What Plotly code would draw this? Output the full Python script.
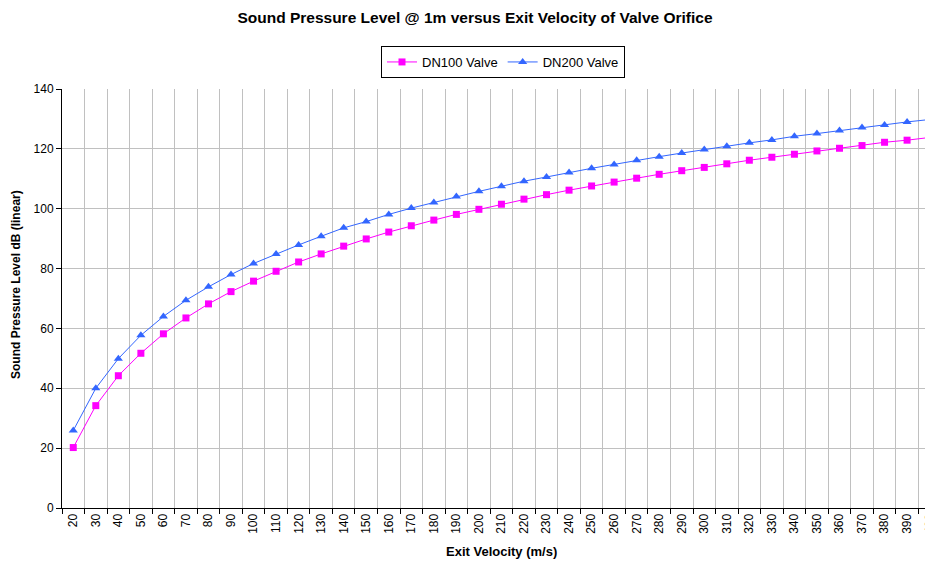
import plotly.graph_objects as go

velocity = [str(v) for v in range(20, 401, 10)]
dn100 = [20.2, 34.2, 44.2, 51.7, 58.2, 63.5, 68.2, 72.3, 75.8, 79.1, 82.2, 84.9, 87.5,
         89.9, 92.2, 94.3, 96.2, 98.1, 99.8, 101.5, 103.2, 104.7, 106.2, 107.6, 108.9,
         110.2, 111.5, 112.7, 113.8, 115.0, 116.2, 117.2, 118.2, 119.3, 120.2, 121.1,
         122.2, 122.9, 123.8]
dn200 = [25.9, 40.0, 49.9, 57.7, 64.0, 69.4, 73.9, 78.0, 81.7, 84.9, 87.9, 90.8, 93.6,
         95.7, 98.1, 100.2, 102.1, 104.1, 105.8, 107.5, 109.2, 110.6, 112.1, 113.5, 114.8,
         116.2, 117.4, 118.6, 119.8, 120.9, 122.0, 123.0, 124.2, 125.1, 126.1, 127.1,
         128.0, 129.0, 129.8]
yticks = [0, 20, 40, 60, 80, 100, 120, 140]

FONT = "Liberation Sans, Arial, sans-serif"

# page has an 8px body margin, so figure is 8px smaller and offsets are reduced by 8
W, H = 925, 555
L, T, B = 54, 81, 55
PW, PH = W - L, H - T - B

fig = go.Figure()
fig.add_trace(go.Scatter(x=velocity, y=dn100, name="DN100 Valve", mode="lines+markers",
                         line=dict(color="#FF00FF", width=1), cliponaxis=False,
                         marker=dict(symbol="square", size=7, color="#FF00FF")))
fig.add_trace(go.Scatter(x=velocity, y=dn200, name="DN200 Valve", mode="lines+markers",
                         line=dict(color="#3366FF", width=1), cliponaxis=False,
                         marker=dict(symbol="triangle-up", size=8, color="#3366FF")))

fig.update_layout(
    width=W, height=H,
    margin=dict(l=L, r=0, t=T, b=B),
    paper_bgcolor="white", plot_bgcolor="white",
    font=dict(family=FONT, size=12, color="black"),
    title=dict(text="<b>Sound Pressure Level @ 1m versus Exit Velocity of Valve Orifice</b>",
               x=467 / W, xref="container", xanchor="center",
               y=1 - 10 / H, yref="container", yanchor="middle",
               font=dict(family=FONT, size=15.5, color="black")),
    showlegend=True,
    legend=dict(orientation="h", x=(503 - 62) / PW, xanchor="center",
                y=1 + (89 - 46) / PH, yanchor="top",
                bordercolor="black", borderwidth=1, bgcolor="white",
                font=dict(family=FONT, size=13, color="black"),
                itemwidth=30, tracegroupgap=0),
)

fig.update_xaxes(
    type="category", range=[-0.5, 38.15],
    tickson="boundaries", ticks="outside", ticklen=5, tickcolor="black",
    showgrid=True, gridcolor="#c0c0c0", gridwidth=1,
    showline=True, linecolor="black", linewidth=1,
    tickangle=-90, tickfont=dict(family=FONT, size=12, color="black"),
    automargin=False, fixedrange=True,
)
fig.update_yaxes(
    range=[0, 140], tickvals=yticks, ticks="outside", ticklen=5, tickcolor="black",
    showgrid=True, gridcolor="#c0c0c0", gridwidth=1,
    showline=True, linecolor="black", linewidth=1, zeroline=False,
    tickfont=dict(family=FONT, size=12, color="black"),
    automargin=False, fixedrange=True,
)

fig.add_annotation(text="<b>Exit Velocity (m/s)</b>", xref="paper", yref="paper",
                   x=(502 - 62) / PW, y=-(551 - 508) / PH, xanchor="center", yanchor="middle",
                   showarrow=False, font=dict(family=FONT, size=13, color="black"))
fig.add_annotation(text="<b>Sound Pressure Level dB (linear)</b>", xref="paper", yref="paper",
                   x=-(62 - 16) / PW, y=(508 - 285) / PH, xanchor="center", yanchor="middle",
                   textangle=-90,
                   showarrow=False, font=dict(family=FONT, size=12, color="black"))

fig.write_html("out.html")
